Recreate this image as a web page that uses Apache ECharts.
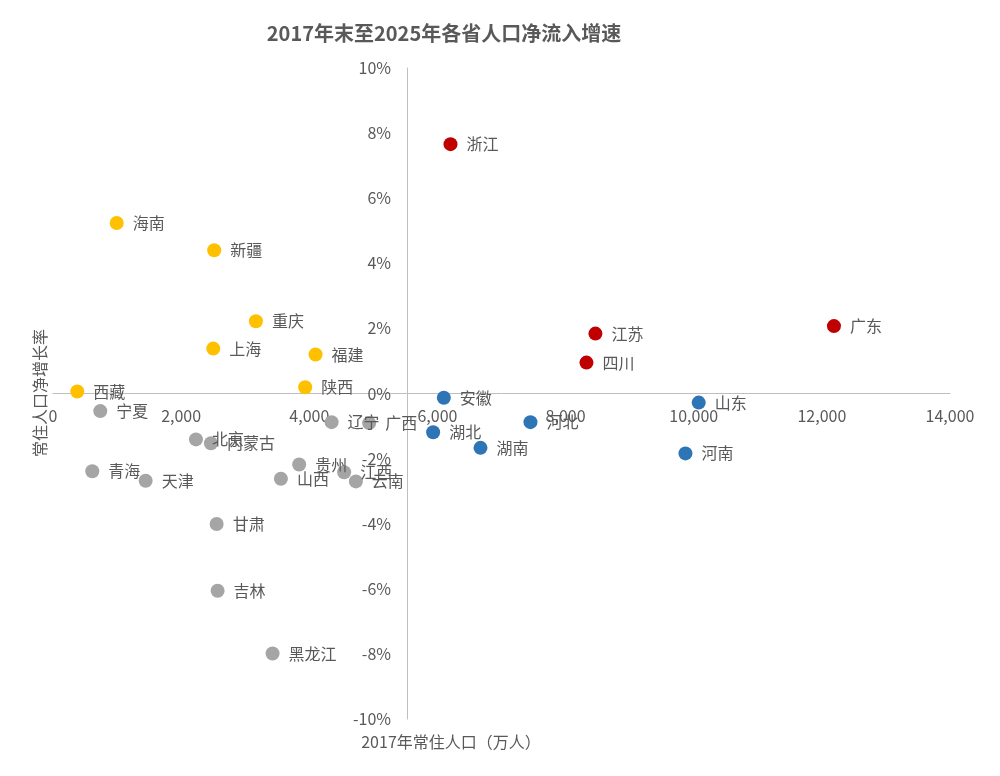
<!DOCTYPE html>
<html>
<head>
<meta charset="utf-8">
<script src="https://cdn.jsdelivr.net/npm/echarts@6/dist/echarts.min.js"></script>
<style>
  html, body { margin: 0; padding: 0; background: #fff; }
  #main { width: 1000px; height: 776px; }
</style>
</head>
<body>
<div id="main"></div>
<script>
// 省份、2017年常住人口（万人）、净增长率（%）、分组
var provinces = ['浙江', '江苏', '四川', '广东',
  '海南', '新疆', '重庆', '上海', '福建', '陕西', '西藏',
  '安徽', '山东', '湖北', '河北', '湖南', '河南',
  '宁夏', '辽宁', '广西', '北京', '内蒙古', '青海', '天津', '贵州', '山西', '江西', '云南', '甘肃', '吉林', '黑龙江'];
var population = [6204, 8466, 8326, 12189,
  994, 2516, 3167, 2501, 4098, 3936, 379,
  6100, 10078, 5933, 7452, 6672, 9871,
  738, 4348, 4934, 2231, 2465, 613, 1446, 3842, 3557, 4544, 4727, 2554, 2569, 3427];
var netRate = [7.66, 1.84, 0.95, 2.07,
  5.24, 4.40, 2.22, 1.38, 1.20, 0.19, 0.06,
  -0.13, -0.28, -1.19, -0.88, -1.67, -1.84,
  -0.54, -0.88, -0.91, -1.41, -1.53, -2.39, -2.68, -2.18, -2.62, -2.42, -2.70, -4.01, -6.06, -7.99];
var groups = ['red', 'red', 'red', 'red',
  'yellow', 'yellow', 'yellow', 'yellow', 'yellow', 'yellow', 'yellow',
  'blue', 'blue', 'blue', 'blue', 'blue', 'blue',
  'gray', 'gray', 'gray', 'gray', 'gray', 'gray', 'gray', 'gray', 'gray', 'gray', 'gray', 'gray', 'gray', 'gray'];

var groupNames = ['red', 'yellow', 'blue', 'gray'];
var groupColors = { red: '#C00000', yellow: '#FFC000', blue: '#2E75B6', gray: '#A5A5A5' };

var font = '"Noto Sans CJK SC", "Microsoft YaHei", sans-serif';
var textColor = '#595959';

var chart = echarts.init(document.getElementById('main'));

var series = groupNames.map(function (g) {
  var data = [];
  for (var i = 0; i < provinces.length; i++) {
    if (groups[i] === g) {
      data.push({ name: provinces[i], value: [population[i], netRate[i]] });
    }
  }
  return {
    type: 'scatter',
    name: g,
    symbolSize: 14,
    itemStyle: { color: groupColors[g], opacity: 1 },
    label: {
      show: true,
      position: 'right',
      distance: 9,
      formatter: '{b}',
      color: textColor,
      fontSize: 16,
      fontFamily: font
    },
    data: data
  };
});

var option = {
  animation: false,
  backgroundColor: '#fff',
  grid: { left: 53, right: 50, top: 68, bottom: 57 },
  xAxis: {
    type: 'value',
    min: 0,
    max: 14000,
    interval: 2000,
    // 横轴放在 0% 处
    offset: -326,
    axisLine: { onZero: false, lineStyle: { color: '#BFBFBF', width: 1 } },
    axisTick: { show: false },
    splitLine: { show: false },
    axisLabel: {
      color: textColor,
      fontSize: 16,
      fontFamily: font,
      margin: 15,
      formatter: function (v) { return v.toLocaleString('en-US'); }
    }
  },
  yAxis: {
    type: 'value',
    min: -10,
    max: 10,
    interval: 2,
    // 纵轴放在约 5500 处
    offset: -354,
    axisLine: { show: true, onZero: false, lineStyle: { color: '#BFBFBF', width: 1 } },
    axisTick: { show: false },
    splitLine: { show: false },
    axisLabel: {
      color: textColor,
      fontSize: 16,
      fontFamily: font,
      margin: 16,
      formatter: function (v) { return v + '%'; }
    }
  },
  graphic: [
    {
      type: 'text',
      position: [444, 33],
      style: {
        text: '2017年末至2025年各省人口净流入增速',
        fill: textColor,
        font: 'bold 20px ' + font,
        textAlign: 'center', textVerticalAlign: 'middle'
      }
    },
    {
      type: 'text',
      position: [451, 742],
      style: {
        text: '2017年常住人口（万人）',
        fill: textColor,
        font: '16px ' + font,
        textAlign: 'center', textVerticalAlign: 'middle'
      }
    },
    {
      type: 'text',
      position: [40, 393],
      rotation: Math.PI / 2,
      style: {
        text: '常住人口净增长率',
        fill: textColor,
        font: '16px ' + font,
        textAlign: 'center', textVerticalAlign: 'middle'
      }
    }
  ],
  series: series
};

chart.setOption(option);
</script>
</body>
</html>
